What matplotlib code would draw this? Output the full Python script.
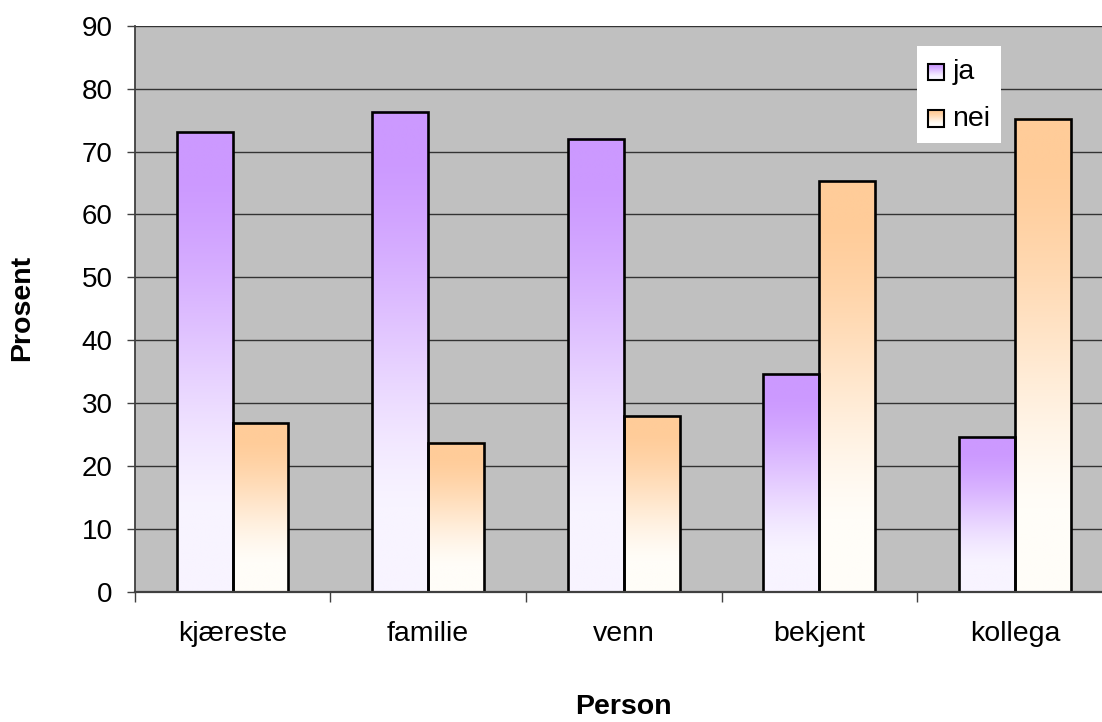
import numpy as np
import matplotlib
matplotlib.use("Agg")
import matplotlib.pyplot as plt
from matplotlib.patches import Rectangle

# Data
categories = ["kjæreste", "familie", "venn", "bekjent", "kollega"]
series_names = ["ja", "nei"]
ja_values = [73.1, 76.3, 72.0, 34.6, 24.6]
nei_values = [26.8, 23.7, 27.9, 65.3, 75.2]
y_ticks = [0, 10, 20, 30, 40, 50, 60, 70, 80, 90]

top_colors = {"ja": (204, 153, 255), "nei": (255, 204, 153)}
bottom_colors = {"ja": (248, 244, 255), "nei": (255, 253, 248)}

plt.rcParams["font.family"] = ["Liberation Sans", "DejaVu Sans"]

W, H = 1102, 722
fig = plt.figure(figsize=(W / 100, H / 100), dpi=100)
fig.patch.set_facecolor("white")

# axes rectangle in pixels (right edge runs past the canvas)
left_px, right_px, top_px, bottom_px = 134.7, 1112.7, 25.7, 592.0
ax = fig.add_axes([left_px / W, 1 - bottom_px / H,
                   (right_px - left_px) / W, (bottom_px - top_px) / H])
ax.set_facecolor("#C0C0C0")


def gradient(name, n=256):
    t = np.linspace(1, 0, n)  # top -> bottom
    g = np.clip((t - 0.18) / 0.72, 0, 1)
    g = g * g * (3 - 2 * g) * 0.5 + g * 0.5
    c = np.array(top_colors[name]) / 255.0
    b = np.array(bottom_colors[name]) / 255.0
    img = b[None, :] * (1 - g[:, None]) + c[None, :] * g[:, None]
    return img[:, None, :]


bar_w = 0.286
x = np.arange(len(categories))
for name, vals, off in (("ja", ja_values, -bar_w / 2), ("nei", nei_values, bar_w / 2)):
    img = gradient(name)
    for xi, v in zip(x, vals):
        x0 = xi + off - bar_w / 2
        ax.imshow(img, extent=[x0, x0 + bar_w, 0, v], aspect="auto",
                  origin="upper", zorder=2, interpolation="bilinear")
    ax.bar(x + off, vals, width=bar_w, facecolor="none",
           edgecolor="black", linewidth=1.9, zorder=3)

ax.set_xlim(-0.5, 4.5)
ax.set_ylim(0, 90)

# gridlines
ax.set_yticks(y_ticks)
ax.yaxis.grid(True, color="#333333", linewidth=1.0, zorder=1)
ax.set_axisbelow(True)

for s in ("top", "right"):
    ax.spines[s].set_visible(False)
ax.spines["left"].set_color("#404040")
ax.spines["left"].set_linewidth(1.3)
ax.spines["bottom"].set_color("#404040")
ax.spines["bottom"].set_linewidth(1.6)
ax.spines["bottom"].set_zorder(4)

ax.tick_params(axis="y", direction="out", length=6, width=1.0, color="#404040",
               pad=10, labelsize=20)
ax.set_xticks(x)
ax.set_xticklabels(categories)
ax.set_xticks(np.arange(-0.5, 5.0, 1.0), minor=True)
ax.tick_params(axis="x", which="major", length=0, pad=21, labelsize=20.5)
ax.tick_params(axis="x", which="minor", direction="out", length=7, width=1.0,
               color="#404040")

fig.text((left_px + right_px) / 2 / W, 1 - 707 / H, "Person", ha="center",
         va="center", fontsize=20.5, fontweight="bold")
fig.text(22 / W, 1 - 308 / H, "Prosent", ha="center", va="center",
         rotation=90, fontsize=20.5, fontweight="bold")

# legend box
lx0, lx1, ly0, ly1 = 917.0, 1000.7, 46.0, 142.7
lax = fig.add_axes([lx0 / W, 1 - ly1 / H, (lx1 - lx0) / W, (ly1 - ly0) / H])
lax.set_facecolor("white")
lax.set_xticks([])
lax.set_yticks([])
for s in lax.spines.values():
    s.set_visible(False)
for name, yc in zip(series_names, (25.8, 72.7)):
    sz = 16.5
    sx0, sy0 = 10.5, yc - sz / 2
    lax.imshow(gradient(name), extent=[sx0, sx0 + sz, sy0 + sz, sy0],
               aspect="auto", origin="upper", zorder=2)
    lax.add_patch(Rectangle((sx0, sy0), sz, sz, facecolor="none",
                            edgecolor="black", linewidth=1.5, zorder=3))
    lax.text(35.5, yc, name, ha="left", va="center", fontsize=20.5)
lax.set_xlim(0, lx1 - lx0)
lax.set_ylim(ly1 - ly0, 0)

fig.savefig("out.png", dpi=100)
